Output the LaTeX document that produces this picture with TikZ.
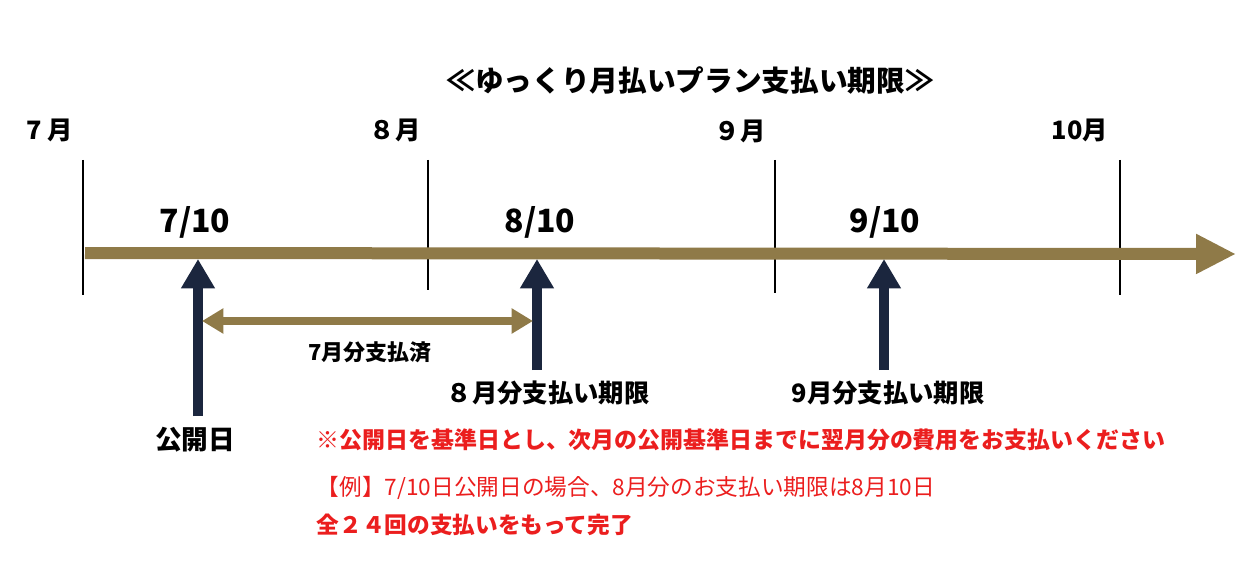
\documentclass[tikz,border=0pt]{standalone}
\usepackage{fontspec}
\setmainfont{Noto Sans CJK JP}
\usetikzlibrary{arrows.meta}
\definecolor{gold}{RGB}{143,122,72}
\definecolor{navy}{RGB}{27,38,62}
\definecolor{myred}{RGB}{235,30,30}
\begin{document}
\begin{tikzpicture}[x=0.75pt,y=-0.75pt,
  mon/.style={font=\bfseries\fontsize{19}{22}\selectfont},
  dt/.style={font=\bfseries\fontsize{24}{28}\selectfont},
  lbl/.style={font=\bfseries\fontsize{19}{22}\selectfont},
  red/.style={text=myred,anchor=west},
  tick/.style={line width=1.5pt,black},
  up/.style={navy,line width=7.5pt,-{Triangle[width=24pt,length=22pt]}}]
\useasboundingbox (0,0) rectangle (1256,563);
\node[font=\bfseries\fontsize{21.5}{25}\selectfont] (title) at (690,80) {≪ゆっくり月払いプラン支払い期限≫};
\node[mon] (m7) at (50,130) {7 月};
\node[mon] (m8) at (395,130) {８月};
\node[mon] (m9) at (740,131) {９月};
\node[mon] (m10) at (1080,130) {10月};
\foreach \x/\a/\b in {83/160/295,428/160/290,775/160/293,1120/160/295}
  \draw[tick] (\x,\a) -- (\x,\b);
\coordinate (s) at (85,253);
\coordinate (e) at (1236,254);
\draw[gold,line width=9pt,-{Triangle[width=28pt,length=30pt]}] (s) -- (e);
\node[dt] (d7) at (195,222) {7/10};
\node[dt] (d8) at (540,222) {8/10};
\node[dt] (d9) at (885,222) {9/10};
\coordinate (a1) at (198,416); \coordinate (t1) at (198,259);
\coordinate (a2) at (537,370); \coordinate (t2) at (537,259);
\coordinate (a3) at (884,370); \coordinate (t3) at (884,259);
\draw[up] (a1) -- (t1);
\draw[up] (a2) -- (t2);
\draw[up] (a3) -- (t3);
\coordinate (l) at (202,321); \coordinate (r) at (533,321);
\draw[gold,line width=6pt,{Triangle[width=18pt,length=16pt]}-{Triangle[width=18pt,length=16pt]}] (l) -- (r);
\node[font=\bfseries\fontsize{16.5}{19}\selectfont] (p7) at (370,352) {7月分支払済};
\node[lbl] (p8) at (548,393) {８月分支払い期限};
\node[lbl] (p9) at (888,393) {9月分支払い期限};
\node[font=\bfseries\fontsize{20}{24}\selectfont] (pub) at (195,440) {公開日};
\node[red,font=\bfseries\fontsize{17.2}{20}\selectfont] (n1) at (312,440) {※公開日を基準日とし、次月の公開基準日までに翌月分の費用をお支払いください};
\node[red,font=\fontsize{17}{20}\selectfont] (n2) at (312,488) {【例】7/10日公開日の場合、8月分のお支払い期限は8月10日};
\node[red,font=\bfseries\fontsize{17}{20}\selectfont] (n3) at (312,525) {全２４回の支払いをもって完了};
\end{tikzpicture}
\end{document}
